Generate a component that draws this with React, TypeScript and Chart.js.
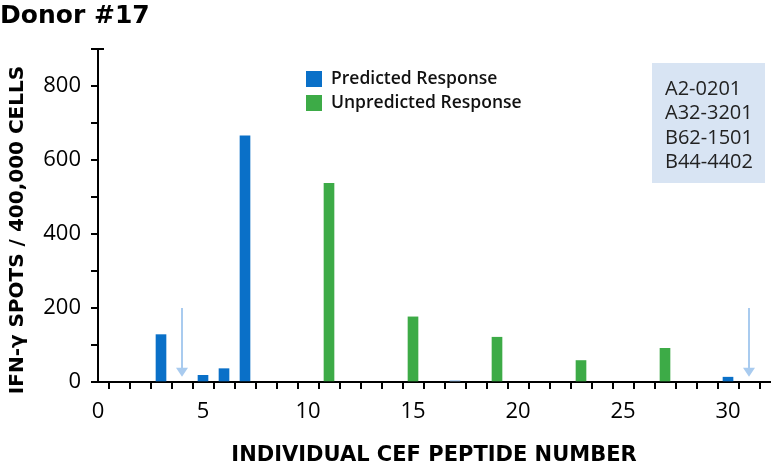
import React, { useEffect, useRef } from "react";
import { Chart, registerables } from "chart.js";

Chart.register(...registerables);

const TITLE = "Donor #17";
const Y_TITLE = "IFN-γ SPOTS / 400,000 CELLS";
const X_TITLE = "INDIVIDUAL CEF PEPTIDE NUMBER";

const predictedPeptides = [3, 5, 6, 7, 17, 30];
const predictedValues = [128, 18, 36, 665, 4, 13];
const unpredictedPeptides = [11, 15, 19, 23, 27];
const unpredictedValues = [537, 176, 121, 58, 91];
const arrowPeptides = [4, 31];
const arrowTop = 200;
const arrowBottom = 14;
const hlaAlleles = ["A2-0201", "A32-3201", "B62-1501", "B44-4402"];
const legendLabels = ["Predicted Response", "Unpredicted Response"];

const BLUE = "#0a70c8";
const PALE_BLUE = "#a9cbef";
const GREEN = "#3dab47";
const FONT = "'Open Sans', 'DejaVu Sans', sans-serif";
const BOLD_FONT = "'DejaVu Sans', sans-serif";

const overlayPlugin = {
  id: "overlay",
  afterDraw(chart: any) {
    const { ctx, chartArea, scales } = chart;
    const xs = scales.x;
    const ys = scales.y;
    ctx.save();
    // title
    ctx.fillStyle = "#000";
    ctx.font = `bold 25px ${BOLD_FONT}`;
    ctx.textBaseline = "middle";
    ctx.textAlign = "left";
    ctx.fillText(TITLE, 0, 16);
    // y axis title
    ctx.save();
    ctx.translate(18, 230);
    ctx.rotate(-Math.PI / 2);
    ctx.textAlign = "center";
    ctx.font = `bold 20px ${BOLD_FONT}`;
    ctx.fillText(Y_TITLE, 0, 0);
    ctx.restore();
    // arrows
    ctx.strokeStyle = PALE_BLUE;
    ctx.fillStyle = PALE_BLUE;
    ctx.lineWidth = 2;
    arrowPeptides.forEach((p) => {
      const x = xs.getPixelForValue(p);
      const y1 = ys.getPixelForValue(arrowTop);
      const y2 = ys.getPixelForValue(arrowBottom);
      ctx.beginPath();
      ctx.moveTo(x, y1);
      ctx.lineTo(x, y2 - 6);
      ctx.stroke();
      ctx.beginPath();
      ctx.moveTo(x - 6, y2 - 9);
      ctx.lineTo(x + 6, y2 - 9);
      ctx.lineTo(x, y2);
      ctx.closePath();
      ctx.fill();
    });
    // legend
    const lx = chartArea.left + 208;
    const colors = [BLUE, GREEN];
    ctx.font = `600 17.5px ${FONT}`;
    ctx.textAlign = "left";
    legendLabels.forEach((label, i) => {
      const cy = 79 + i * 24;
      ctx.fillStyle = colors[i];
      ctx.fillRect(lx, cy - 8, 16, 16);
      ctx.fillStyle = "#111";
      ctx.fillText(label, lx + 25, cy);
    });
    // HLA box
    ctx.fillStyle = "#d8e4f3";
    ctx.fillRect(652, 63, 113, 120);
    ctx.fillStyle = "#222";
    ctx.font = `20px ${FONT}`;
    hlaAlleles.forEach((a, i) => {
      ctx.fillText(a, 665, 89 + i * 24.5);
    });
    // axis cap
    ctx.strokeStyle = "#000";
    ctx.lineWidth = 2;
    ctx.beginPath();
    ctx.moveTo(chartArea.left, chartArea.top);
    ctx.lineTo(chartArea.left + 6, chartArea.top);
    ctx.stroke();
    ctx.restore();
  },
};

export default function App() {
  const ref = useRef<HTMLCanvasElement>(null);
  useEffect(() => {
    document.body.style.margin = "0";
    const canvas = ref.current;
    if (!canvas) return;
    const chart = new Chart(canvas, {
      type: "bar",
      data: {
        datasets: [
          {
            label: legendLabels[0],
            data: predictedPeptides.map((x, i) => ({ x, y: predictedValues[i] })),
            backgroundColor: (c: any) => (c.raw && c.raw.y < 8 ? PALE_BLUE : BLUE),
            barThickness: 10,
            grouped: false,
          } as any,
          {
            label: legendLabels[1],
            data: unpredictedPeptides.map((x, i) => ({ x, y: unpredictedValues[i] })),
            backgroundColor: GREEN,
            barThickness: 10,
            grouped: false,
          } as any,
        ],
      },
      options: {
        animation: false,
        responsive: false,
        maintainAspectRatio: false,
        layout: { padding: { left: 0, right: 4, top: 49, bottom: 0 } },
        plugins: {
          legend: { display: false },
          tooltip: { enabled: false },
          title: { display: false },
        },
        scales: {
          x: {
            type: "linear",
            min: 0,
            max: 32,
            offset: false,
            afterFit: (s: any) => {
              s.height = 86;
              s.paddingRight = 0;
              s.paddingLeft = 0;
            },
            border: { color: "#000", width: 2 },
            grid: { drawOnChartArea: false, drawTicks: true, tickLength: 7, color: "#000", lineWidth: 2 },
            ticks: {
              stepSize: 1,
              autoSkip: false,
              maxRotation: 0,
              color: "#000",
              font: { family: FONT, size: 22 },
              padding: 10,
              callback: (v: any) => (v % 5 === 0 ? String(v) : ""),
            },
            title: {
              display: true,
              text: X_TITLE,
              color: "#000",
              font: { family: BOLD_FONT, size: 21, weight: "bold" },
              padding: { top: 0, bottom: 0 },
            },
          },
          y: {
            min: 0,
            max: 900,
            afterFit: (s: any) => {
              s.width = 98;
            },
            border: { color: "#000", width: 2 },
            grid: { drawOnChartArea: false, drawTicks: true, tickLength: 7, color: "#000", lineWidth: 2 },
            ticks: {
              stepSize: 100,
              autoSkip: false,
              color: "#000",
              font: { family: FONT, size: 22 },
              padding: 10,
              callback: (v: any) => (v % 200 === 0 && v <= 800 ? String(v) : ""),
            },
            title: { display: false },
          },
        },
      } as any,
      plugins: [overlayPlugin],
    });
    return () => chart.destroy();
  }, []);
  return (
    <div style={{ width: 774, height: 468 }}>
      <canvas ref={ref} width={774} height={468} style={{ display: "block" }} />
    </div>
  );
}
